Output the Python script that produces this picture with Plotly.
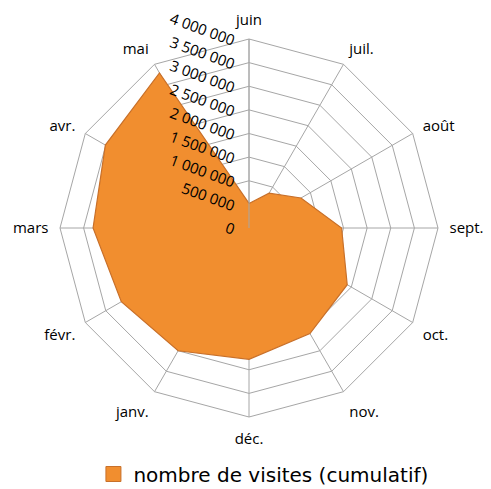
import plotly.graph_objects as go

categories = ["juin", "juil.", "août", "sept.", "oct.", "nov.", "déc.",
              "janv.", "févr.", "mars", "avr.", "mai"]
visites = [520000, 850000, 1270000, 1960000, 2400000, 2580000, 2780000,
           3000000, 3120000, 3300000, 3510000, 3790000]
series_name = "nombre de visites (cumulatif)"
radial_ticks = [0, 500000, 1000000, 1500000, 2000000, 2500000, 3000000, 3500000, 4000000]
radial_labels = ["0", "500 000", "1 000 000", "1 500 000", "2 000 000",
                 "2 500 000", "3 000 000", "3 500 000", "4 000 000"]

fill_col = "#F18E2F"
edge_col = "#C8702A"

fig = go.Figure()
fig.add_trace(go.Scatterpolar(
    r=visites + visites[:1],
    theta=categories + categories[:1],
    mode="lines",
    fill="toself",
    fillcolor=fill_col,
    line=dict(color=edge_col, width=1.2),
    name=series_name,
    showlegend=False,
))
# legend entry (square swatch)
fig.add_trace(go.Scatterpolar(
    r=[None], theta=[categories[0]],
    mode="markers",
    marker=dict(symbol="square", size=15, color=fill_col, line=dict(color=edge_col, width=1)),
    name=series_name,
    showlegend=True,
))

grid = "#A6A6A6"
font_family = "Open Sans"
# page body adds an 8px offset; compensate
off = 8
dx = [(60 - off) / 491, (438 - off) / 491]
dy = [1 - (417 - off) / 489, 1 - (39 - off) / 489]
fig.update_layout(
    width=491, height=489,
    paper_bgcolor="white",
    font=dict(family=font_family, size=15, color="black"),
    margin=dict(l=0, r=0, t=0, b=0, autoexpand=False),
    polar=dict(
        domain=dict(x=dx, y=dy),
        bgcolor="white",
        gridshape="linear",
        angularaxis=dict(
            direction="clockwise", rotation=90,
            showline=True, linecolor=grid, linewidth=1,
            gridcolor=grid, gridwidth=1,
            ticks="outside", ticklen=8, tickcolor="rgba(0,0,0,0)",
            tickfont=dict(size=15),
        ),
        radialaxis=dict(
            range=[0, 4000000], angle=90,
            tickvals=radial_ticks, ticktext=radial_labels,
            tickangle=110,
            showline=True, linecolor=grid, linewidth=1,
            gridcolor=grid, gridwidth=1,
            ticks="", tickfont=dict(size=15),
            side="counterclockwise",
            layer="above traces",
        ),
    ),
    legend=dict(
        orientation="h", x=0.174, xanchor="left", y=1 - (474 - off) / 489, yanchor="middle",
        font=dict(family="DejaVu Sans", size=20), itemwidth=30,
    ),
)

fig.write_html("out.html")
